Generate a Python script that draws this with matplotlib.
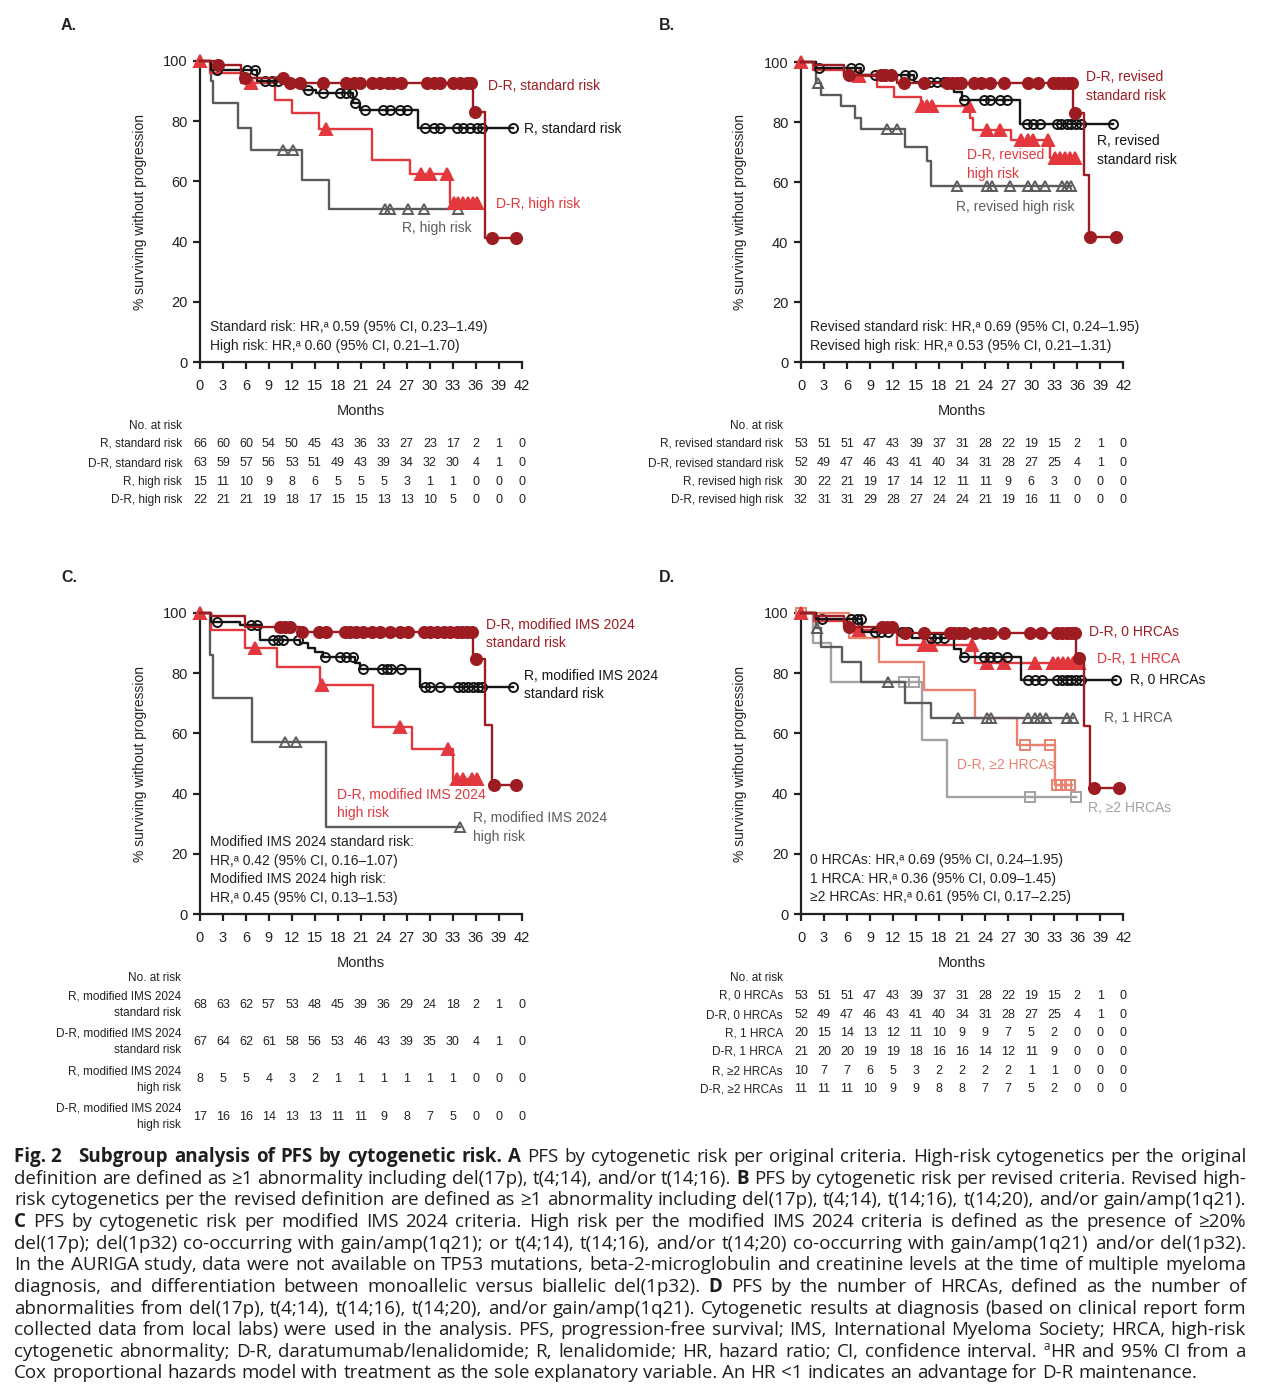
import numpy as np
import matplotlib
matplotlib.use('Agg')
import matplotlib.pyplot as plt
from matplotlib.transforms import blended_transform_factory

# ---------------- shared axis values ----------------
x_ticks = [0, 3, 6, 9, 12, 15, 18, 21, 24, 27, 30, 33, 36, 39, 42]
y_ticks = [0, 20, 40, 60, 80, 100]
risk_times = [0, 3, 6, 9, 12, 15, 18, 21, 24, 27, 30, 33, 36, 39, 42]

# ---------------- Panel A (original criteria) ----------------
a_dr_std_t = [0, 1.9, 5.3, 11.3, 35.7, 37.2]
a_dr_std_s = [100, 98.7, 94.3, 92.6, 83.2, 41.3]
a_dr_std_end = 41.3
a_dr_std_c = [2.4, 5.9, 10.8, 11.8, 13.1, 16.1, 19.1, 20.1, 20.9, 22.4, 23.5, 24.6, 25.2, 26.3,
              29.6, 30.5, 31.3, 33.0, 33.9, 34.8, 35.4, 35.9, 38.1, 41.3]
a_r_std_t = [0, 1.5, 7.4, 13.5, 15.2, 20.0, 20.9, 28.5]
a_r_std_s = [100, 97.0, 93.2, 90.4, 89.3, 86.0, 83.8, 77.9]
a_r_std_end = 40.9
a_r_std_c = [2.2, 6.1, 7.2, 8.5, 9.4, 10.2, 14.1, 16.1, 18.3, 19.1, 19.8, 20.2, 21.5, 23.9, 24.8,
             26.1, 27.0, 29.4, 30.5, 31.3, 33.5, 34.4, 35.2, 36.2, 36.8, 40.9]
a_dr_hi_t = [0, 1.3, 5.3, 9.8, 12.0, 15.5, 22.4, 27.4, 32.6]
a_dr_hi_s = [100, 96.1, 92.6, 87.1, 82.7, 77.5, 67.2, 62.3, 52.9]
a_dr_hi_end = 36.1
a_dr_hi_c = [0, 6.7, 16.5, 28.8, 30.0, 32.2, 33.1, 33.7, 34.3, 35.0, 35.7, 36.1]
a_r_hi_t = [0, 1.5, 1.7, 5.0, 6.7, 13.3, 16.8]
a_r_hi_s = [100, 93.2, 86.0, 77.7, 70.5, 60.3, 50.7]
a_r_hi_end = 33.7
a_r_hi_c = [10.9, 12.2, 24.1, 24.8, 27.2, 29.2, 33.7]

a_risk_labels = ['R, standard risk', 'D-R, standard risk', 'R, high risk', 'D-R, high risk']
a_risk_r_std = [66, 60, 60, 54, 50, 45, 43, 36, 33, 27, 23, 17, 2, 1, 0]
a_risk_dr_std = [63, 59, 57, 56, 53, 51, 49, 43, 39, 34, 32, 30, 4, 1, 0]
a_risk_r_hi = [15, 11, 10, 9, 8, 6, 5, 5, 5, 3, 1, 1, 0, 0, 0]
a_risk_dr_hi = [22, 21, 21, 19, 18, 17, 15, 15, 13, 13, 10, 5, 0, 0, 0]
a_hr_text = ['Standard risk: HR,\u1d43 0.59 (95% CI, 0.23\u20131.49)',
             'High risk: HR,\u1d43 0.60 (95% CI, 0.21\u20131.70)']

# ---------------- Panel B (revised criteria) ----------------
b_dr_std_t = [0, 1.7, 5.6, 12.5, 35.5, 36.9, 37.5]
b_dr_std_s = [100, 99.0, 95.7, 92.9, 83.0, 62.5, 41.6]
b_dr_std_end = 41.1
b_dr_std_c = [6.3, 10.4, 11.0, 11.7, 13.4, 16.0, 19.0, 19.7, 20.3, 20.9, 22.5, 23.5, 24.6, 26.4,
              29.6, 30.9, 32.8, 33.5, 34.1, 34.8, 35.3, 35.7, 37.7, 41.1]
b_r_std_t = [0, 1.9, 7.8, 14.7, 19.9, 21.0, 28.5]
b_r_std_s = [100, 98.1, 95.7, 93.4, 90.1, 87.4, 79.5]
b_r_std_end = 40.6
b_r_std_c = [2.4, 6.5, 7.6, 9.7, 10.6, 11.5, 13.6, 14.5, 16.8, 17.7, 18.6, 21.2, 23.8, 24.6, 25.9,
             26.8, 29.4, 30.2, 31.1, 33.3, 33.9, 34.6, 35.2, 35.9, 36.5, 40.6]
b_dr_hi_t = [0, 1.6, 5.6, 9.9, 12.1, 15.6, 22.0, 22.4, 27.4, 32.4]
b_dr_hi_s = [100, 97.5, 95.2, 91.8, 88.5, 85.2, 81.3, 77.4, 74.1, 68.0]
b_dr_hi_end = 35.7
b_dr_hi_c = [0, 7.6, 15.8, 16.4, 17.1, 21.9, 24.2, 25.9, 28.7, 29.6, 30.2, 32.2, 33.1, 33.7,
             34.4, 35.0, 35.7]
b_r_hi_t = [0, 1.9, 2.6, 5.2, 7.1, 7.8, 13.6, 16.4, 16.9]
b_r_hi_s = [100, 92.9, 89.0, 85.2, 81.3, 77.7, 71.6, 66.9, 58.6]
b_r_hi_end = 35.2
b_r_hi_c = [2.2, 11.2, 12.5, 20.3, 24.2, 24.9, 27.2, 29.6, 30.5, 31.8, 34.0, 34.6, 35.2]

b_risk_labels = ['R, revised standard risk', 'D-R, revised standard risk',
                 'R, revised high risk', 'D-R, revised high risk']
b_risk_r_std = [53, 51, 51, 47, 43, 39, 37, 31, 28, 22, 19, 15, 2, 1, 0]
b_risk_dr_std = [52, 49, 47, 46, 43, 41, 40, 34, 31, 28, 27, 25, 4, 1, 0]
b_risk_r_hi = [30, 22, 21, 19, 17, 14, 12, 11, 11, 9, 6, 3, 0, 0, 0]
b_risk_dr_hi = [32, 31, 31, 29, 28, 27, 24, 24, 21, 19, 16, 11, 0, 0, 0]
b_hr_text = ['Revised standard risk: HR,\u1d43 0.69 (95% CI, 0.24\u20131.95)',
             'Revised high risk: HR,\u1d43 0.53 (95% CI, 0.21\u20131.31)']

# ---------------- Panel C (modified IMS 2024) ----------------
c_dr_std_t = [0, 1.5, 5.9, 13.1, 35.7, 37.2, 38.1]
c_dr_std_s = [100, 99.0, 95.2, 93.8, 84.6, 62.8, 42.9]
c_dr_std_end = 41.3
c_dr_std_c = [10.4, 11.1, 11.7, 13.3, 15.5, 16.5, 18.9, 19.6, 20.4, 21.3, 22.4, 23.5, 24.8, 26.1,
              27.2, 29.2, 30.0, 30.9, 31.8, 32.6, 33.5, 34.2, 34.8, 35.5, 36.0, 38.4, 41.3]
c_r_std_t = [0, 1.5, 5.2, 7.8, 13.1, 14.1, 15.0, 16.1, 20.2, 20.9, 28.7]
c_r_std_s = [100, 97.1, 96.0, 91.0, 89.9, 88.5, 87.1, 85.3, 83.3, 81.4, 75.3]
c_r_std_end = 40.9
c_r_std_c = [2.2, 6.7, 7.4, 9.5, 10.2, 10.9, 12.8, 16.3, 18.3, 19.1, 20.0, 21.3, 23.7, 24.4, 25.0,
             26.3, 29.4, 30.0, 31.3, 33.7, 34.4, 35.0, 35.7, 36.3, 36.8, 40.9]
c_dr_hi_t = [0, 1.4, 5.9, 10.0, 15.7, 22.6, 27.7, 33.0]
c_dr_hi_s = [100, 94.4, 88.5, 82.1, 76.1, 62.0, 54.7, 44.8]
c_dr_hi_end = 36.1
c_dr_hi_c = [0, 7.2, 15.9, 26.1, 32.4, 33.5, 34.4, 35.5, 36.1]
c_r_hi_t = [0, 1.3, 1.7, 6.8, 16.5]
c_r_hi_s = [100, 86.0, 71.7, 57.2, 29.0]
c_r_hi_end = 33.9
c_r_hi_c = [11.1, 12.5, 33.9]

c_risk_labels = ['R, modified IMS 2024\nstandard risk', 'D-R, modified IMS 2024\nstandard risk',
                 'R, modified IMS 2024\nhigh risk', 'D-R, modified IMS 2024\nhigh risk']
c_risk_r_std = [68, 63, 62, 57, 53, 48, 45, 39, 36, 29, 24, 18, 2, 1, 0]
c_risk_dr_std = [67, 64, 62, 61, 58, 56, 53, 46, 43, 39, 35, 30, 4, 1, 0]
c_risk_r_hi = [8, 5, 5, 4, 3, 2, 1, 1, 1, 1, 1, 1, 0, 0, 0]
c_risk_dr_hi = [17, 16, 16, 14, 13, 13, 11, 11, 9, 8, 7, 5, 0, 0, 0]
c_hr_text = ['Modified IMS 2024 standard risk:', 'HR,\u1d43 0.42 (95% CI, 0.16\u20131.07)',
             'Modified IMS 2024 high risk:', 'HR,\u1d43 0.45 (95% CI, 0.13\u20131.53)']

# ---------------- Panel D (number of HRCAs) ----------------
d_dr0_t = [0, 1.8, 5.6, 12.5, 35.9, 36.9, 37.7]
d_dr0_s = [100, 99.0, 95.5, 93.2, 84.9, 62.5, 41.8]
d_dr0_end = 41.4
d_dr0_c = [6.3, 10.6, 11.2, 11.9, 13.6, 16.0, 19.4, 20.0, 20.6, 21.2, 22.7, 23.8, 24.8, 26.4, 29.8,
           31.3, 33.3, 34.0, 34.6, 35.2, 35.7, 36.2, 38.2, 41.4]
d_r0_t = [0, 1.9, 7.9, 14.5, 19.9, 20.9, 28.7]
d_r0_s = [100, 98.1, 93.6, 91.6, 88.0, 85.5, 77.7]
d_r0_end = 41.0
d_r0_c = [2.8, 6.5, 7.3, 7.8, 9.6, 10.4, 11.3, 13.2, 14.0, 16.9, 17.7, 18.6, 21.3, 23.8, 24.6, 25.5,
          26.8, 29.6, 30.5, 31.4, 33.3, 34.0, 34.6, 35.2, 35.9, 36.5, 41.0]
d_dr1_t = [0, 1.7, 6.0, 12.5, 22.7]
d_dr1_s = [100, 97.5, 94.3, 89.4, 83.3]
d_dr1_end = 36.2
d_dr1_c = [0, 7.6, 16.0, 16.9, 22.3, 24.2, 26.4, 30.5, 32.8, 33.5, 34.1, 34.8, 35.4, 36.2]
d_r1_t = [0, 1.9, 2.6, 5.4, 7.8, 13.6, 16.9]
d_r1_s = [100, 95.0, 88.8, 83.8, 77.2, 70.2, 65.0]
d_r1_end = 35.4
d_r1_c = [2.1, 11.3, 20.5, 24.2, 24.8, 29.6, 30.5, 31.1, 31.9, 34.6, 35.4]
d_dr2_t = [0, 6.3, 10.2, 16.0, 22.7, 28.1, 33.1]
d_dr2_s = [100, 91.6, 83.8, 74.4, 65.0, 56.1, 42.9]
d_dr2_end = 35.3
d_dr2_c = [0, 29.2, 32.4, 33.4, 33.9, 34.5, 35.1]
d_r2_t = [0, 1.6, 3.9, 15.8, 19.0]
d_r2_s = [100, 90.0, 77.2, 57.8, 39.0]
d_r2_end = 35.9
d_r2_c = [0, 13.4, 14.7, 29.8, 35.9]

d_risk_labels = ['R, 0 HRCAs', 'D-R, 0 HRCAs', 'R, 1 HRCA', 'D-R, 1 HRCA',
                 'R, \u22652 HRCAs', 'D-R, \u22652 HRCAs']
d_risk_r0 = [53, 51, 51, 47, 43, 39, 37, 31, 28, 22, 19, 15, 2, 1, 0]
d_risk_dr0 = [52, 49, 47, 46, 43, 41, 40, 34, 31, 28, 27, 25, 4, 1, 0]
d_risk_r1 = [20, 15, 14, 13, 12, 11, 10, 9, 9, 7, 5, 2, 0, 0, 0]
d_risk_dr1 = [21, 20, 20, 19, 19, 18, 16, 16, 14, 12, 11, 9, 0, 0, 0]
d_risk_r2 = [10, 7, 7, 6, 5, 3, 2, 2, 2, 2, 1, 1, 0, 0, 0]
d_risk_dr2 = [11, 11, 11, 10, 9, 9, 8, 8, 7, 7, 5, 2, 0, 0, 0]
d_hr_text = ['0 HRCAs: HR,\u1d43 0.69 (95% CI, 0.24\u20131.95)',
             '1 HRCA: HR,\u1d43 0.36 (95% CI, 0.09\u20131.45)',
             '\u22652 HRCAs: HR,\u1d43 0.61 (95% CI, 0.17\u20132.25)']

caption_lines = [
    "*Fig.\u00a02 *Subgroup *analysis *of *PFS *by *cytogenetic *risk. *A PFS by cytogenetic risk per original criteria. High-risk cytogenetics per the original",
    "definition are defined as \u22651 abnormality including del(17p), t(4;14), and/or t(14;16). *B PFS by cytogenetic risk per revised criteria. Revised high-",
    "risk cytogenetics per the revised definition are defined as \u22651 abnormality including del(17p), t(4;14), t(14;16), t(14;20), and/or gain/amp(1q21).",
    "*C PFS by cytogenetic risk per modified IMS 2024 criteria. High risk per the modified IMS 2024 criteria is defined as the presence of \u226520%",
    "del(17p); del(1p32) co-occurring with gain/amp(1q21); or t(4;14), t(14;16), and/or t(14;20) co-occurring with gain/amp(1q21) and/or del(1p32).",
    "In the AURIGA study, data were not available on TP53 mutations, beta-2-microglobulin and creatinine levels at the time of multiple myeloma",
    "diagnosis, and differentiation between monoallelic versus biallelic del(1p32). *D PFS by the number of HRCAs, defined as the number of",
    "abnormalities from del(17p), t(4;14), t(14;16), t(14;20), and/or gain/amp(1q21). Cytogenetic results at diagnosis (based on clinical report form",
    "collected data from local labs) were used in the analysis. PFS, progression-free survival; IMS, International Myeloma Society; HRCA, high-risk",
    "cytogenetic abnormality; D-R, daratumumab/lenalidomide; R, lenalidomide; HR, hazard ratio; CI, confidence interval. ^aHR and 95% CI from a",
    "Cox proportional hazards model with treatment as the sole explanatory variable. An HR <1 indicates an advantage for D-R maintenance.",
]

# ---------------- styles ----------------
DARKRED = '#9c1c21'
RED = '#e1373d'
BLACK = '#141414'
DGREY = '#5b5b5b'
SALMON = '#ea8270'
LGREY = '#a2a2a2'
TXT = '#222222'

W, H = 1266, 1394
plt.rcParams['font.family'] = ['Liberation Sans', 'DejaVu Sans']
fig = plt.figure(figsize=(W / 100, H / 100), dpi=100)
fig.patch.set_facecolor('white')


def fx(px):
    return px / W


def fy(py):
    return 1 - py / H


def add_ax(l, r, b, t):
    return fig.add_axes([l / W, 1 - b / H, (r - l) / W, (b - t) / H])


def style(ax):
    ax.set_xlim(0, 42)
    ax.set_ylim(0, 100)
    ax.set_xticks(x_ticks)
    ax.set_yticks(y_ticks)
    ax.spines['top'].set_visible(False)
    ax.spines['right'].set_visible(False)
    for k in ('left', 'bottom'):
        ax.spines[k].set_linewidth(1.6)
        ax.spines[k].set_color(TXT)
    ax.tick_params(axis='both', direction='out', length=5, width=1.6, color=TXT,
                   labelsize=10.5, labelcolor=TXT)
    ax.tick_params(axis='x', pad=7)
    ax.tick_params(axis='y', pad=4)
    ax.patch.set_visible(False)


def km(ax, t, s, end, cens, color, marker, filled, ms, mew=1.4, lw=1.7, z=3):
    tt = list(t) + [end]
    ss = list(s) + [s[-1]]
    ax.step(tt, ss, where='post', color=color, lw=lw, clip_on=False, zorder=z)
    ta = np.asarray(t, float)
    sa = np.asarray(s, float)
    cy = sa[np.searchsorted(ta, np.asarray(cens, float), side='right') - 1]
    ax.plot(cens, cy, ls='none', marker=marker, ms=ms,
            mfc=color if filled else 'none', mec=color, mew=mew,
            clip_on=False, zorder=z + 0.5)


def label(px, py, s, color, size=10):
    fig.text(fx(px), fy(py), s, color=color, fontsize=size, ha='left', va='center')


def panel_common(ax, cx, months_y, ylab_x):
    style(ax)
    pos = ax.get_position()
    ymid = (pos.y0 + pos.y1) / 2
    fig.text(fx(ylab_x), ymid, '% surviving without progression', rotation=90,
             ha='center', va='center', fontsize=10, color=TXT)
    fig.text(fx(cx), fy(months_y), 'Months', ha='center', va='center', fontsize=10.5, color=TXT)


def risk_table(ax, labels, rows, ys, right_px, header_y, size=8.5, nsize=9):
    tr = blended_transform_factory(ax.transData, fig.transFigure)
    fig.text(fx(right_px), fy(header_y), 'No. at risk', ha='right', va='center',
             fontsize=size, color=TXT)
    for lab, vals, y in zip(labels, rows, ys):
        parts = lab.split('\n')
        if len(parts) == 1:
            fig.text(fx(right_px), fy(y), lab, ha='right', va='center', fontsize=size, color=TXT)
        else:
            fig.text(fx(right_px), fy(y - 8.3), parts[0], ha='right', va='center', fontsize=size, color=TXT)
            fig.text(fx(right_px), fy(y + 8.3), parts[1], ha='right', va='center', fontsize=size, color=TXT)
        for m, v in zip(risk_times, vals):
            ax.text(m, fy(y), str(v), transform=tr, ha='center', va='center',
                    fontsize=nsize, color=TXT, clip_on=False)


# ---------------- axes ----------------
axA = add_ax(200, 521.7, 362, 61)
axB = add_ax(801, 1123.3, 362, 62)
axC = add_ax(200, 521.7, 914, 613)
axD = add_ax(801, 1123.3, 914, 613)

for ax, letter, lx, ly, cx, my, ylx in [
        (axA, 'A.', 61, 25, 361, 411, 140),
        (axB, 'B.', 659, 25, 962, 411, 740),
        (axC, 'C.', 61, 577, 361, 963, 140),
        (axD, 'D.', 659, 577, 962, 963, 740)]:
    panel_common(ax, cx, my, ylx)
    fig.text(fx(lx), fy(ly), letter, fontsize=11.5, fontweight='bold', ha='left', va='center', color=TXT)

# Panel A curves
km(axA, a_r_hi_t, a_r_hi_s, a_r_hi_end, a_r_hi_c, DGREY, '^', False, 7.5, z=3)
km(axA, a_dr_hi_t, a_dr_hi_s, a_dr_hi_end, a_dr_hi_c, RED, '^', True, 8.5, z=4)
km(axA, a_r_std_t, a_r_std_s, a_r_std_end, a_r_std_c, BLACK, 'o', False, 6.5, z=5)
km(axA, a_dr_std_t, a_dr_std_s, a_dr_std_end, a_dr_std_c, DARKRED, 'o', True, 8, z=6)
label(488, 86, 'D-R, standard risk', DARKRED)
label(524, 129, 'R, standard risk', BLACK)
label(496, 204, 'D-R, high risk', RED)
label(402, 228, 'R, high risk', DGREY)
for i, s in enumerate(a_hr_text):
    fig.text(fx(210), fy(327 + 19 * i), s, fontsize=10, ha='left', va='center', color=TXT)
risk_table(axA, a_risk_labels, [a_risk_r_std, a_risk_dr_std, a_risk_r_hi, a_risk_dr_hi],
           [444, 463, 482, 500], 182, 426)

# Panel B curves
km(axB, b_r_hi_t, b_r_hi_s, b_r_hi_end, b_r_hi_c, DGREY, '^', False, 7.5, z=3)
km(axB, b_dr_hi_t, b_dr_hi_s, b_dr_hi_end, b_dr_hi_c, RED, '^', True, 8.5, z=4)
km(axB, b_r_std_t, b_r_std_s, b_r_std_end, b_r_std_c, BLACK, 'o', False, 6.5, z=5)
km(axB, b_dr_std_t, b_dr_std_s, b_dr_std_end, b_dr_std_c, DARKRED, 'o', True, 8, z=6)
label(1086, 77, 'D-R, revised', DARKRED)
label(1086, 96, 'standard risk', DARKRED)
label(1097, 141, 'R, revised', BLACK)
label(1097, 160, 'standard risk', BLACK)
label(967, 155, 'D-R, revised', RED)
label(967, 174, 'high risk', RED)
label(956, 207, 'R, revised high risk', DGREY)
for i, s in enumerate(b_hr_text):
    fig.text(fx(810), fy(327 + 19 * i), s, fontsize=10, ha='left', va='center', color=TXT)
risk_table(axB, b_risk_labels, [b_risk_r_std, b_risk_dr_std, b_risk_r_hi, b_risk_dr_hi],
           [444, 463, 482, 500], 783, 426)

# Panel C curves
km(axC, c_r_hi_t, c_r_hi_s, c_r_hi_end, c_r_hi_c, DGREY, '^', False, 7.5, z=3)
km(axC, c_dr_hi_t, c_dr_hi_s, c_dr_hi_end, c_dr_hi_c, RED, '^', True, 8.5, z=4)
km(axC, c_r_std_t, c_r_std_s, c_r_std_end, c_r_std_c, BLACK, 'o', False, 6.5, z=5)
km(axC, c_dr_std_t, c_dr_std_s, c_dr_std_end, c_dr_std_c, DARKRED, 'o', True, 8, z=6)
label(486, 625, 'D-R, modified IMS 2024', DARKRED)
label(486, 643, 'standard risk', DARKRED)
label(524, 676, 'R, modified IMS 2024', BLACK)
label(524, 694, 'standard risk', BLACK)
label(337, 795, 'D-R, modified IMS 2024', RED)
label(337, 813, 'high risk', RED)
label(473, 818, 'R, modified IMS 2024', DGREY)
label(473, 837, 'high risk', DGREY)
for i, s in enumerate(c_hr_text):
    fig.text(fx(210), fy(842 + 18.7 * i), s, fontsize=10, ha='left', va='center', color=TXT)
risk_table(axC, c_risk_labels, [c_risk_r_std, c_risk_dr_std, c_risk_r_hi, c_risk_dr_hi],
           [1004.5, 1042, 1079.5, 1117], 181, 978)

# Panel D curves
km(axD, d_r2_t, d_r2_s, d_r2_end, d_r2_c, LGREY, 's', False, 6.5, z=2)
km(axD, d_dr2_t, d_dr2_s, d_dr2_end, d_dr2_c, SALMON, 's', False, 6.5, z=2.5)
km(axD, d_r1_t, d_r1_s, d_r1_end, d_r1_c, DGREY, '^', False, 7.5, z=3)
km(axD, d_dr1_t, d_dr1_s, d_dr1_end, d_dr1_c, RED, '^', True, 8.5, z=4)
km(axD, d_r0_t, d_r0_s, d_r0_end, d_r0_c, BLACK, 'o', False, 6.5, z=5)
km(axD, d_dr0_t, d_dr0_s, d_dr0_end, d_dr0_c, DARKRED, 'o', True, 8, z=6)
label(1089, 632, 'D-R, 0 HRCAs', DARKRED)
label(1097, 659, 'D-R, 1 HRCA', RED)
label(1130, 680, 'R, 0 HRCAs', BLACK)
label(1104, 718, 'R, 1 HRCA', DGREY)
label(957, 765, 'D-R, \u22652 HRCAs', SALMON)
label(1088, 808, 'R, \u22652 HRCAs', LGREY)
for i, s in enumerate(d_hr_text):
    fig.text(fx(810), fy(860 + 18.7 * i), s, fontsize=10, ha='left', va='center', color=TXT)
risk_table(axD, d_risk_labels, [d_risk_r0, d_risk_dr0, d_risk_r1, d_risk_dr1, d_risk_r2, d_risk_dr2],
           [996, 1015, 1033.5, 1052, 1071, 1089.5], 783, 978)

# ---------------- caption (justified) ----------------
CAPF = ['Open Sans', 'DejaVu Sans']
CAPC = '#1e1e1e'
renderer = fig.canvas.get_renderer()


def tw(s, size, weight='normal'):
    t = fig.text(0, 0, s, fontsize=size, fontweight=weight, family=CAPF)
    w = t.get_window_extent(renderer).width
    t.remove()
    return w


def parse(tok):
    if tok.startswith('*'):
        return [(tok[1:], 'b')]
    if tok.startswith('^a'):
        return [('a', 's'), (tok[2:], 'n')]
    return [(tok, 'n')]


def seg_w(seg, size):
    txt, st = seg
    if st == 's':
        return tw(txt, size * 0.62)
    return tw(txt, size, 'bold' if st == 'b' else 'normal')


def measure_line(line, size):
    words = [parse(t) for t in line.split(' ')]
    widths = [sum(seg_w(sg, size) for sg in w) for w in words]
    return words, widths


left, right = 14.0, 1246.0
base = 10.0
sp0 = tw('a a', base) - tw('aa', base)
need = []
for li, line in enumerate(caption_lines[:-1]):
    _, wl = measure_line(line, base)
    ex = 2.2 * sp0 if line.startswith('*Fig.') else 0.0
    need.append(sum(wl) + 0.95 * sp0 * (len(wl) - 1) + ex)
cap_size = base * (right - left) / max(need)
space = tw('a a', cap_size) - tw('aa', cap_size)

base_y0, dy = 1162.0, 21.65
for li, line in enumerate(caption_lines):
    words, widths = measure_line(line, cap_size)
    n = len(words)
    extras = [0.0] * n
    if words[0][0][0].startswith('Fig.'):
        extras[0] = 2.2 * space
    last = (li == len(caption_lines) - 1)
    if last:
        gap = space
    else:
        gap = (right - left - sum(widths) - sum(extras[:-1])) / (n - 1)
    x = left
    by = base_y0 + dy * li
    for wi, (w, ww) in enumerate(zip(words, widths)):
        xx = x
        for txt, st in w:
            if st == 's':
                fig.text(fx(xx), fy(by - cap_size * 100 / 72 * 0.38), txt, fontsize=cap_size * 0.62,
                         family=CAPF, color=CAPC, ha='left', va='baseline')
            else:
                fig.text(fx(xx), fy(by), txt, fontsize=cap_size,
                         fontweight='bold' if st == 'b' else 'normal',
                         family=CAPF, color=CAPC, ha='left', va='baseline')
            xx += seg_w((txt, st), cap_size)
        x += ww + gap + extras[wi]

fig.savefig('out.png', dpi=100, facecolor='white')
